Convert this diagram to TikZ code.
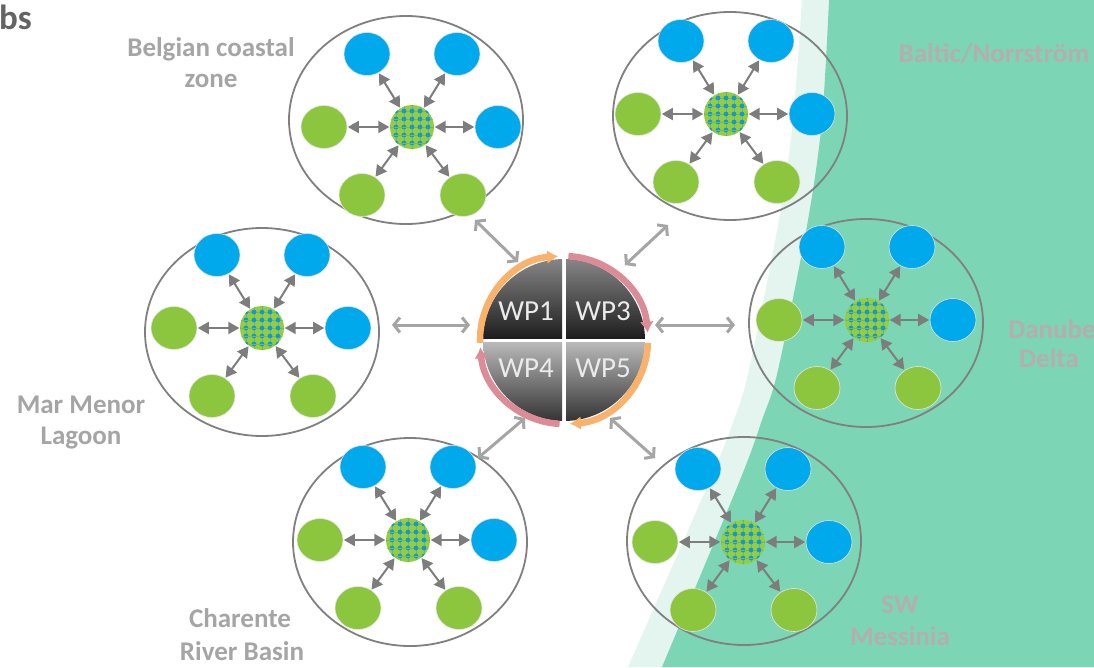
\documentclass[tikz,border=0pt]{standalone}
\usepackage{fontspec}
\setmainfont{Carlito}
\usetikzlibrary{arrows.meta,shapes.geometric}
\definecolor{bgdark}{RGB}{124,214,181}
\definecolor{bglight}{RGB}{228,245,239}
\definecolor{ringgray}{RGB}{128,128,128}
\definecolor{nodeblue}{RGB}{0,169,236}
\definecolor{nodegreen}{RGB}{140,198,63}
\definecolor{hubgreen}{RGB}{150,205,60}
\definecolor{hubblue}{RGB}{20,150,220}
\definecolor{arrowgray}{RGB}{125,125,125}
\definecolor{bigarrowgray}{RGB}{165,165,165}
\definecolor{labelgray}{RGB}{165,165,165}
\definecolor{labelgreen}{RGB}{180,174,174}
\definecolor{titlegray}{RGB}{100,100,100}
\definecolor{orangearc}{RGB}{248,178,108}
\definecolor{pinkarc}{RGB}{220,140,150}
\definecolor{wptop}{RGB}{135,135,135}
\definecolor{wpdark}{RGB}{30,30,30}
\definecolor{wplight}{RGB}{185,185,185}
\definecolor{wpbottom}{RGB}{50,50,50}
\tikzset{
  ring/.style={ellipse,draw=ringgray,line width=1.8pt,minimum width=234pt,minimum height=208pt,inner sep=0pt},
  bluenode/.style={ellipse,fill=nodeblue,draw=black!12,line width=0.6pt,minimum width=46pt,minimum height=43pt,inner sep=0pt},
  greennode/.style={ellipse,fill=nodegreen,draw=black!10,line width=0.6pt,minimum width=46pt,minimum height=43pt,inner sep=0pt},
  hubnode/.style={circle,fill=hubgreen,minimum size=44pt,inner sep=0pt},
  smallarrow/.style={draw=arrowgray,line width=2pt,{Triangle[length=11pt,width=12pt]}-{Triangle[length=11pt,width=12pt]},shorten <=0.5pt,shorten >=0.5pt},
  bigarrow/.style={draw=bigarrowgray,line width=3pt,{Straight Barb[length=6pt,width=15pt]}-{Straight Barb[length=6pt,width=15pt]}},
  arcarrow/.style={line width=6.5pt,-{Latex[length=11pt,width=14pt]}},
  lbl/.style={anchor=base,inner sep=0pt,text=labelgray,font=\fontsize{27}{31}\selectfont\bfseries},
  glbl/.style={lbl,text=labelgreen},
  wptext/.style={inner sep=0pt,text=white!92!black,font=\fontsize{29}{33}\selectfont}
}
\newcommand\mkcluster[5]{%
  \node[ring] (#1) at (#4,#5) {};
  \begin{scope}[shift={(#2,#3)}]
    \node[bluenode] (#1tl) at (-45,-73) {};
    \node[bluenode] (#1tr) at (45,-73) {};
    \node[greennode] (#1l) at (-88,0) {};
    \node[bluenode] (#1r) at (86,0) {};
    \node[greennode] (#1bl) at (-50,68) {};
    \node[greennode] (#1br) at (51,68) {};
    \node[hubnode] (#1h) at (0,0) {};
    \begin{scope}
      \clip (0,0) circle (22);
      \foreach \i in {-3,...,3} {
        \draw[hubblue!35!hubgreen,line width=0.9pt] (\i*8,-25) -- (\i*8,25);
        \draw[hubblue!35!hubgreen,line width=0.9pt] (-25,\i*8) -- (25,\i*8);
        \foreach \j in {-3,...,3} \fill[hubblue] (\i*8,\j*8) circle (2.4);
      }
    \end{scope}
    \foreach \t in {tl,tr,l,r,bl,br} \draw[smallarrow] (#1h) -- (#1\t);
  \end{scope}}
\begin{document}
\begin{tikzpicture}[x=1pt,y=-1pt]
\useasboundingbox (0,0) rectangle (1094,667);
\fill[white] (0,0) rectangle (1094,667);
% green backgrounds
\fill[bglight] plot[smooth] coordinates {(802,0) (793,120) (779,220) (749,370) (734,420) (710,480) (628,667)}
  -- (1094,667) -- (1094,0) -- cycle;
\fill[bgdark] plot[smooth] coordinates {(829,0) (822,120) (808,220) (778,370) (762,420) (740,480) (662,667)}
  -- (1094,667) -- (1094,0) -- cycle;
% clusters
\mkcluster{be}{412}{127}{406}{120}
\mkcluster{ba}{726}{114}{730}{116}
\mkcluster{mm}{262}{328}{262}{332}
\mkcluster{da}{867}{320}{866}{323}
\mkcluster{ch}{408}{540}{410}{542}
\mkcluster{sw}{743}{542}{744}{541}
% big arrows
\coordinate (a1s) at (475,220); \coordinate (a1e) at (518,262);
\coordinate (a2s) at (668,225); \coordinate (a2e) at (625,265);
\coordinate (a3s) at (392,325); \coordinate (a3e) at (470,325);
\coordinate (a4s) at (735,325); \coordinate (a4e) at (655,325);
\coordinate (a5s) at (478,458); \coordinate (a5e) at (525,418);
\coordinate (a6s) at (655,458); \coordinate (a6e) at (610,418);
\foreach \k in {1,...,6} \draw[bigarrow] (a\k s) -- (a\k e);
% WP disc
\node[circle,minimum size=176pt,inner sep=0pt] (wp) at (564,340) {};
\begin{scope}
  \clip (564,340) circle (81);
  \shade[top color=wptop,bottom color=wpdark] (480,258) rectangle (562,338);
  \shade[top color=wptop,bottom color=wpdark] (566,258) rectangle (648,338);
  \shade[top color=wplight,bottom color=wpbottom] (480,342) rectangle (562,422);
  \shade[top color=wplight,bottom color=wpbottom] (566,342) rectangle (648,422);
\end{scope}
\draw[arcarrow,orangearc] ([shift={(-182:84)}]wp.center) arc[start angle=-182,end angle=-94,radius=84];
\draw[arcarrow,pinkarc] ([shift={(-87:84)}]wp.center) arc[start angle=-87,end angle=-5,radius=84];
\draw[arcarrow,orangearc] ([shift={(2:84)}]wp.center) arc[start angle=2,end angle=86,radius=84];
\draw[arcarrow,pinkarc] ([shift={(93:84)}]wp.center) arc[start angle=93,end angle=175,radius=84];
\node[wptext] (wp1) at (526,311) {WP1};
\node[wptext] (wp3) at (603,311) {WP3};
\node[wptext] (wp4) at (526,368) {WP4};
\node[wptext] (wp5) at (603,368) {WP5};
% labels
\node[anchor=base west,inner sep=0pt,text=titlegray,font=\fontsize{35}{40}\selectfont\bfseries] (title) at (-1,29) {bs};
\node[lbl] (be1) at (211,56) {Belgian coastal};
\node[lbl] (be2) at (211,87) {zone};
\node[lbl] (mm1) at (81,413) {Mar Menor};
\node[lbl] (mm2) at (81,444) {Lagoon};
\node[lbl] (ch1) at (240,627) {Charente};
\node[lbl] (ch2) at (242,660) {River Basin};
\node[glbl] (ba1) at (994,62) {Baltic/Norrström};
\node[glbl] (da1) at (1052,338) {Danube};
\node[glbl] (da2) at (1049,367) {Delta};
\node[glbl] (sw1) at (900,613) {SW};
\node[glbl] (sw2) at (900,645) {Messinia};
\end{tikzpicture}
\end{document}
